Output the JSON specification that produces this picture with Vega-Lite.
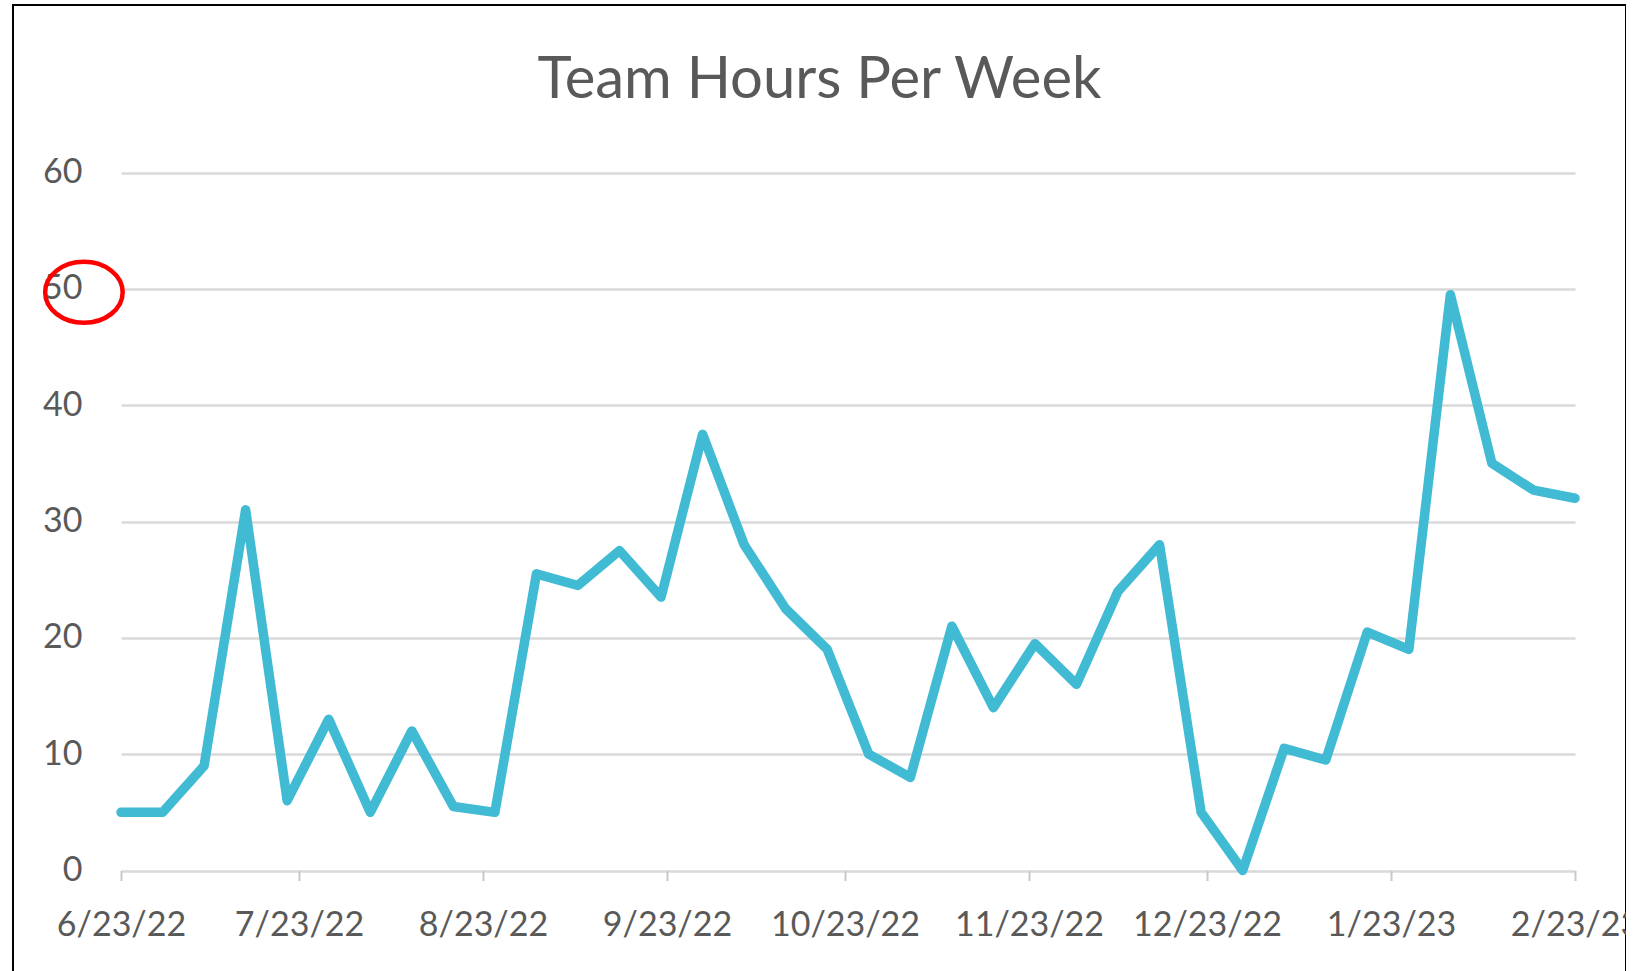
{
  "$schema": "https://vega.github.io/schema/vega-lite/v6.json",
  "autosize": {"type": "none"},
  "padding": {"left": 13, "top": 5, "right": 0, "bottom": 0},
  "width": 1613,
  "height": 967,
  "background": "white",
  "config": {
    "view": {"stroke": "#000000", "strokeWidth": 2},
    "font": "Lato"
  },
  "title": {
    "text": "Team Hours Per Week",
    "font": "Lato",
    "fontSize": 58,
    "fontWeight": "normal",
    "color": "#595959",
    "anchor": "middle",
    "frame": "group",
    "baseline": "alphabetic",
    "offset": -151
  },
  "datasets": {
    "hours": [
      {"week": "2022-06-23T00:00", "hours": 5},
      {"week": "2022-06-30T00:00", "hours": 5},
      {"week": "2022-07-07T00:00", "hours": 9},
      {"week": "2022-07-14T00:00", "hours": 31},
      {"week": "2022-07-21T00:00", "hours": 6},
      {"week": "2022-07-28T00:00", "hours": 13},
      {"week": "2022-08-04T00:00", "hours": 5},
      {"week": "2022-08-11T00:00", "hours": 12},
      {"week": "2022-08-18T00:00", "hours": 5.5},
      {"week": "2022-08-25T00:00", "hours": 5},
      {"week": "2022-09-01T00:00", "hours": 25.5},
      {"week": "2022-09-08T00:00", "hours": 24.5},
      {"week": "2022-09-15T00:00", "hours": 27.5},
      {"week": "2022-09-22T00:00", "hours": 23.5},
      {"week": "2022-09-29T00:00", "hours": 37.5},
      {"week": "2022-10-06T00:00", "hours": 28},
      {"week": "2022-10-13T00:00", "hours": 22.5},
      {"week": "2022-10-20T00:00", "hours": 19},
      {"week": "2022-10-27T00:00", "hours": 10},
      {"week": "2022-11-03T00:00", "hours": 8},
      {"week": "2022-11-10T00:00", "hours": 21},
      {"week": "2022-11-17T00:00", "hours": 14},
      {"week": "2022-11-24T00:00", "hours": 19.5},
      {"week": "2022-12-01T00:00", "hours": 16},
      {"week": "2022-12-08T00:00", "hours": 24},
      {"week": "2022-12-15T00:00", "hours": 28},
      {"week": "2022-12-22T00:00", "hours": 5},
      {"week": "2022-12-29T00:00", "hours": 0},
      {"week": "2023-01-05T00:00", "hours": 10.5},
      {"week": "2023-01-12T00:00", "hours": 9.5},
      {"week": "2023-01-19T00:00", "hours": 20.5},
      {"week": "2023-01-26T00:00", "hours": 19},
      {"week": "2023-02-02T00:00", "hours": 49.5},
      {"week": "2023-02-09T00:00", "hours": 35},
      {"week": "2023-02-16T00:00", "hours": 32.7},
      {"week": "2023-02-23T00:00", "hours": 32}
    ],
    "note": [
      {"week": "2022-06-16T18:00", "hours": 49.7}
    ]
  },
  "layer": [
    {
      "data": {"name": "hours"},
      "mark": {"type": "line", "color": "#41BAD4", "strokeWidth": 9.5, "strokeCap": "round", "strokeJoin": "round"},
      "encoding": {
        "x": {
          "field": "week",
          "type": "temporal",
          "scale": {
            "domain": [{"year": 2022, "month": 6, "date": 23}, {"year": 2023, "month": 2, "date": 23}],
            "range": [108, 1562]
          },
          "axis": {
            "title": null,
            "values": [
              {"year": 2022, "month": 6, "date": 23},
              {"year": 2022, "month": 7, "date": 23},
              {"year": 2022, "month": 8, "date": 23},
              {"year": 2022, "month": 9, "date": 23},
              {"year": 2022, "month": 10, "date": 23},
              {"year": 2022, "month": 11, "date": 23},
              {"year": 2022, "month": 12, "date": 23},
              {"year": 2023, "month": 1, "date": 23},
              {"year": 2023, "month": 2, "date": 23}
            ],
            "format": "%-m/%-d/%y",
            "offset": -101.5,
            "domain": false,
            "grid": false,
            "ticks": true,
            "tickSize": 10,
            "tickWidth": 2,
            "tickColor": "#C8C8C8",
            "labelFont": "Lato",
            "labelFontSize": 34,
            "labelColor": "#595959",
            "labelBaseline": "alphabetic",
            "labelPadding": 55,
            "labelAlign": "center",
            "labelOverlap": false,
            "labelFlush": false
          }
        },
        "y": {
          "field": "hours",
          "type": "quantitative",
          "scale": {"domain": [0, 60], "range": [865.5, 167.5], "nice": false, "zero": true},
          "axis": {
            "title": null,
            "values": [0, 10, 20, 30, 40, 50, 60],
            "offset": -69,
            "domain": false,
            "ticks": false,
            "tickSize": 0,
            "labelPadding": 0,
            "grid": true,
            "gridColor": "#D9D9D9",
            "gridWidth": 2.5,
            "labelFont": "Lato",
            "labelFontSize": 34,
            "labelColor": "#595959",
            "labelBaseline": "middle"
          }
        }
      }
    },
    {
      "data": {"name": "note"},
      "mark": {
        "type": "point",
        "shape": "M-1,0 A1,0.787 0 1,0 1,0 A1,0.787 0 1,0 -1,0 Z",
        "size": 6006,
        "filled": false,
        "stroke": "#FF0000",
        "strokeWidth": 4.5,
        "opacity": 1
      },
      "encoding": {
        "x": {"field": "week", "type": "temporal"},
        "y": {"field": "hours", "type": "quantitative"}
      }
    }
  ]
}
